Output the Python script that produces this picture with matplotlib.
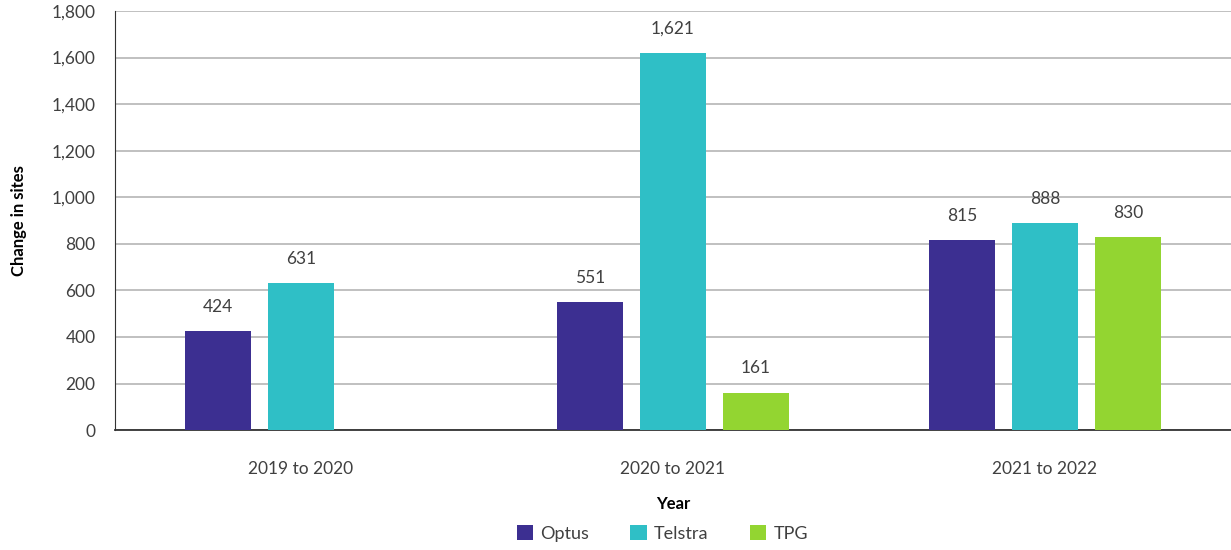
import matplotlib.pyplot as plt
import numpy as np

years = ['2019 to 2020', '2020 to 2021', '2021 to 2022']
carriers = ['Optus', 'Telstra', 'TPG']
optus = [424, 551, 815]
telstra = [631, 1621, 888]
tpg = [np.nan, 161, 830]
colors = ['#3c2f91', '#2fbfc6', '#93d531']
yticks = np.arange(0, 1801, 200)

plt.rcParams['font.family'] = ['Lato', 'DejaVu Sans']
text_col = '#404040'

fig = plt.figure(figsize=(12.31, 5.5), dpi=100)
ax = fig.add_axes([0.0934, 0.218, 0.9066, 0.762])

x = np.arange(len(years))
w = 0.177
off = 0.223
handles = []
for i, (name, vals) in enumerate(zip(carriers, [optus, telstra, tpg])):
    pos = x + (i - 1) * off
    b = ax.bar(pos, vals, width=w, color=colors[i], label=name, zorder=3)
    handles.append(b)
    for p, v in zip(pos, vals):
        if not np.isnan(v):
            ax.text(p, v + 70, f'{int(v):,}', ha='center', va='bottom',
                    fontsize=12.5, color=text_col)

ax.set_xlim(-0.5, 2.5)
ax.set_ylim(0, 1800)
ax.set_yticks(yticks)
ax.set_yticklabels([f'{t:,}' for t in yticks], fontsize=12.5, color=text_col)
ax.set_xticks(x)
ax.set_xticklabels(years, fontsize=12.5, color=text_col)
ax.tick_params(axis='both', length=0)
ax.tick_params(axis='y', pad=14)
ax.tick_params(axis='x', pad=22)
ax.grid(axis='y', color='#b5b5b5', linewidth=1.2, zorder=0)
for s in ['top', 'right']:
    ax.spines[s].set_visible(False)
ax.spines['left'].set_color('#333333')
ax.spines['bottom'].set_color('#333333')
ax.spines['bottom'].set_linewidth(1.3)

ax.set_ylabel('Change in sites', fontsize=12, fontweight='bold', color='black', labelpad=18)
ax.set_xlabel('Year', fontsize=12, fontweight='bold', color='black', labelpad=14)

fig.legend(handles=handles, labels=carriers, loc='center', bbox_to_anchor=(0.538, 0.03),
           ncol=3, frameon=False, fontsize=13, handlelength=0.9, handleheight=0.9,
           columnspacing=2.3, handletextpad=0.4, labelcolor=text_col)

fig.savefig('out.png', dpi=100)
